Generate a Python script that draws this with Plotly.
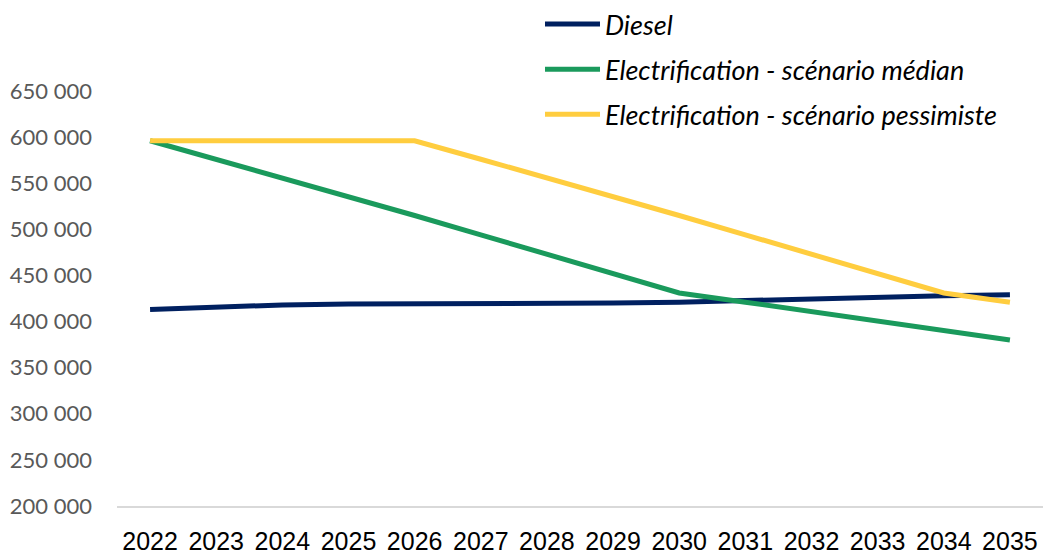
import plotly.graph_objects as go

years = [str(y) for y in range(2022, 2036)]
diesel = [413000, 416000, 418000, 419000, 419000, 419000, 419000, 420000, 421000, 423000, 424000, 426000, 428000, 429000]
median = [596000, 576000, 556000, 535000, 515000, 494000, 473000, 452000, 431000, 421000, 411000, 400000, 390000, 380000]
pessimiste = [596000, 596000, 596000, 596000, 596000, 576000, 556000, 535000, 515000, 494000, 473000, 452000, 431000, 421000]

names = ["Diesel", "Electrification - scénario médian", "Electrification - scénario pessimiste"]
colors = ["#002060", "#1A9A5C", "#FFCD3F"]
series = [diesel, median, pessimiste]

fig = go.Figure()
for i, (n, c, s) in enumerate(zip(names, colors, series)):
    fig.add_trace(go.Scatter(x=years, y=s, name=n, mode="lines",
                             line=dict(color=c, width=5),
                             legendgroup=f"g{i}", showlegend=True))

fig.update_layout(
    width=1043, height=554,
    margin=dict(l=117, r=0, t=0, b=48),
    paper_bgcolor="white", plot_bgcolor="white",
    separators=", ",
    font=dict(family="Lato, sans-serif"),
    showlegend=True,
    legend=dict(x=0.4568, y=1.0, xanchor="left", yanchor="top",
                font=dict(size=27, color="#000000", family="Lato, sans-serif", style="italic"),
                tracegroupgap=7, bgcolor="rgba(0,0,0,0)", itemwidth=55),
    xaxis=dict(type="category", range=[-0.5, 13.5], showgrid=False, zeroline=False,
               showline=True, linecolor="#D9D9D9", linewidth=1.5, automargin=False,
               tickfont=dict(size=25, color="#000000", family="Liberation Sans Narrow, sans-serif"),
               ticks="", ticklabelstandoff=12),
    yaxis=dict(range=[200000, 650000], dtick=50000, tickformat=",d", automargin=False,
               domain=[0, 0.8202],
               showgrid=False, zeroline=False, showline=False,
               tickfont=dict(size=22, color="#595959", family="Lato, sans-serif"),
               ticks="", ticklabelstandoff=24),
)

fig.write_html("out.html")
